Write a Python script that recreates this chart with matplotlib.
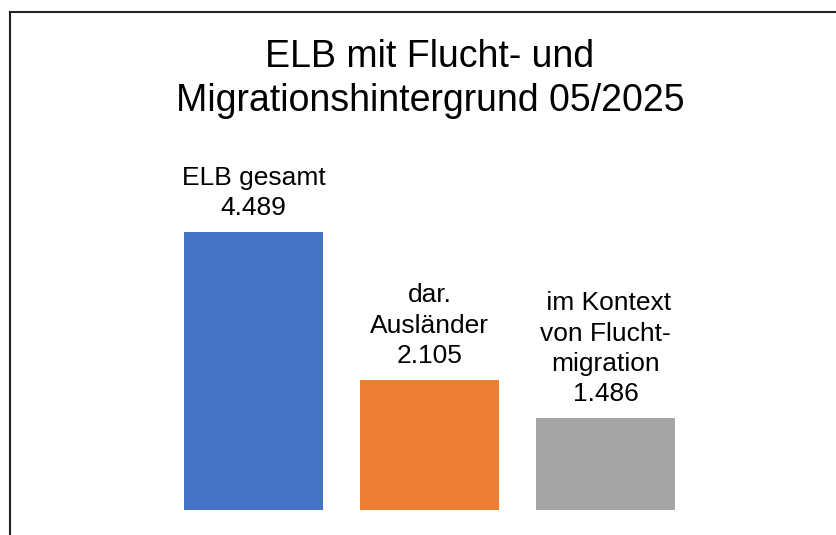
import matplotlib
matplotlib.use("Agg")
import matplotlib.pyplot as plt
from matplotlib.lines import Line2D

categories = ["ELB gesamt", "dar.\nAusländer", " im Kontext\nvon Flucht-\nmigration"]
values = [4489, 2105, 1486]
value_labels = ["4.489", "2.105", "1.486"]
colors = ["#4472C4", "#ED7D31", "#A5A5A5"]
title = "ELB mit Flucht- und\nMigrationshintergrund 05/2025"

plt.rcParams['font.family'] = ['Liberation Sans', 'DejaVu Sans']

W, H = 837, 535
fig = plt.figure(figsize=(W / 100, H / 100), dpi=100)
fig.patch.set_facecolor("white")

ax = fig.add_axes([165.5 / W, 25 / H, 528 / W, 309.6 / H])
x = list(range(len(values)))
bars = ax.bar(x, values, width=0.79, color=colors)
ax.set_xlim(-0.5, 2.5)
ax.set_ylim(0, 5000)
ax.axis("off")

for xi, v, cat, lab in zip(x, values, categories, value_labels):
    ax.annotate(f"{cat}\n{lab}", xy=(xi, v), xytext=(0, 8.5), textcoords="offset points",
                ha="center", va="bottom", fontsize=19, linespacing=1.33, color="#000000")

fig.text(430 / W, 1 - 79 / H, title, ha="center", va="center", fontsize=27,
         linespacing=1.29, color="#000000")

# chart frame (cropped)
fig.add_artist(Line2D([10.5 / W, 10.5 / W], [0, 1 - 11.5 / H], transform=fig.transFigure,
                      color="#222222", lw=1.5))
fig.add_artist(Line2D([10.5 / W, 1.0], [1 - 11.5 / H, 1 - 11.5 / H], transform=fig.transFigure,
                      color="#222222", lw=1.5))

fig.savefig("out.png", dpi=100)
